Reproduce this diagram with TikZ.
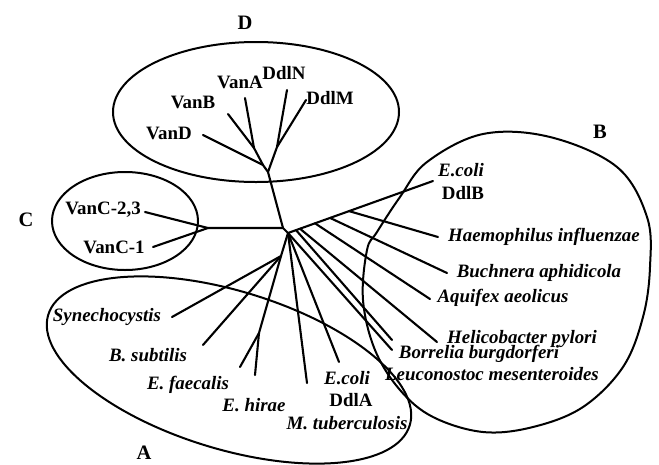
\documentclass[tikz,border=0pt]{standalone}
\usepackage{fontspec}
\setmainfont{Liberation Serif}
\begin{document}
\begin{tikzpicture}[x=1pt,y=-1pt,
  br/.style={line width=2.1pt, line cap=round},
  region/.style={line width=2pt},
  lab/.style={font=\fontsize{18.9}{20}\selectfont\bfseries, inner sep=0pt},
  sp/.style={font=\fontsize{18.9}{20}\selectfont\bfseries\itshape, inner sep=0pt},
  grp/.style={font=\fontsize{20.5}{22}\selectfont\bfseries, inner sep=0pt}]
\useasboundingbox (0,0) rectangle (659,464);
\clip (0,0) rectangle (659,464);
% regions
\draw[region] (256,112) ellipse [x radius=143, y radius=70];
\draw[region] (125,221) ellipse [x radius=73, y radius=49];
\draw[region, rotate around={-17:(229,370)}] (229,370) ellipse [x radius=189, y radius=79];
\draw[region] plot[smooth cycle, tension=0.6] coordinates {(363,300) (367,250) (377,232) (400,197) (427,162) (483,134) (550,137) (617,167) (647,217) (650,267) (643,317) (623,367) (583,407) (533,427) (483,432) (433,417) (400,390) (375,350)};
% group labels
\node[grp] (gD) at (245,23) {D};
\node[grp] (gC) at (26,220) {C};
\node[grp] (gB) at (600,132) {B};
\node[grp] (gA) at (144,453) {A};
% tree points
\coordinate (R) at (288,233);
\coordinate (jdc) at (283,228);
\coordinate (jd) at (268,172);
\coordinate (jd1) at (263,165);
\coordinate (jab) at (254,148);
\coordinate (jnm) at (277,147);
\coordinate (eVanD) at (203,135);
\coordinate (eVanB) at (228,114);
\coordinate (eVanA) at (245,98);
\coordinate (eDdlN) at (287,90);
\coordinate (eDdlM) at (306,100);
\coordinate (jc) at (208,228);
\coordinate (eC23) at (145,212);
\coordinate (eC1) at (153,247);
\coordinate (eDdlB) at (433,181);
\coordinate (b0) at (296,230.1);
\coordinate (b1) at (300,228.7);
\coordinate (b2) at (315,223.3);
\coordinate (b3) at (330,217.9);
\coordinate (b4) at (349,211.1);
\coordinate (eHae) at (438,237);
\coordinate (eBuc) at (447,273);
\coordinate (eAqu) at (430,299);
\coordinate (eHel) at (437,342);
\coordinate (eLeu) at (392,340);
\coordinate (eBor) at (392,350);
\coordinate (ja) at (281,256);
\coordinate (eSyn) at (172,317);
\coordinate (eBsub) at (203,345);
\coordinate (jee) at (259,333);
\coordinate (eFae) at (240,367);
\coordinate (eHir) at (255,375);
\coordinate (eMtb) at (307,383);
\coordinate (eEcA) at (339,362);
% D
\draw[br] (R) -- (jdc) -- (jd) -- (jd1) -- (jab) -- (eVanB);
\draw[br] (jab) -- (eVanA);
\draw[br] (jd1) -- (eVanD);
\draw[br] (jd) -- (jnm) -- (eDdlN);
\draw[br] (jnm) -- (eDdlM);
% C
\draw[br] (jdc) -- (jc) -- (eC23);
\draw[br] (jc) -- (eC1);
% B
\draw[br] (R) -- (eDdlB);
\draw[br] (b4) -- (eHae);
\draw[br] (b3) -- (eBuc);
\draw[br] (b2) -- (eAqu);
\draw[br] (b1) -- (eHel);
\draw[br] (b0) -- (eLeu);
\draw[br] (R) -- (eBor);
% A
\draw[br] (R) -- (ja) -- (eSyn);
\draw[br] (ja) -- (eBsub);
\draw[br] (ja) -- (jee) -- (eFae);
\draw[br] (jee) -- (eHir);
\draw[br] (R) -- (eMtb);
\draw[br] (R) -- (eEcA);
% labels D
\node[lab] (lVanA) at (240,82) {VanA};
\node[lab] (lDdlN) at (284,73) {DdlN};
\node[lab] (lVanB) at (193,102) {VanB};
\node[lab] (lVanD) at (169,133) {VanD};
\node[lab] (lDdlM) at (330,98) {DdlM};
% labels C
\node[lab] (lC23) at (103,210) {VanC-2,3};
\node[lab] (lC1) at (114,247) {VanC-1};
% labels B
\node[sp] (lEcB) at (461,170) {E.coli};
\node[lab] (lDdlB) at (463,193) {DdlB};
\node[sp] (lHae) at (544,237) {Haemophilus influenzae};
\node[sp] (lBuc) at (539,273) {Buchnera aphidicola};
\node[sp] (lAqu) at (503,298) {Aquifex aeolicus};
\node[sp] (lHel) at (522,339) {Helicobacter pylori};
\node[sp] (lBor) at (479,354) {Borrelia burgdorferi};
\node[sp] (lLeu) at (492,374) {Leuconostoc mesenteroides};
% labels A
\node[sp] (lSyn) at (107,317) {Synechocystis};
\node[sp] (lBsub) at (148,355) {B. subtilis};
\node[sp] (lFae) at (188,385) {E. faecalis};
\node[sp] (lHir) at (254,405) {E. hirae};
\node[sp] (lEcA) at (347,378) {E.coli};
\node[lab] (lDdlA) at (351,400) {DdlA};
\node[sp] (lMtb) at (347,423) {M. tuberculosis};
\end{tikzpicture}
\end{document}
